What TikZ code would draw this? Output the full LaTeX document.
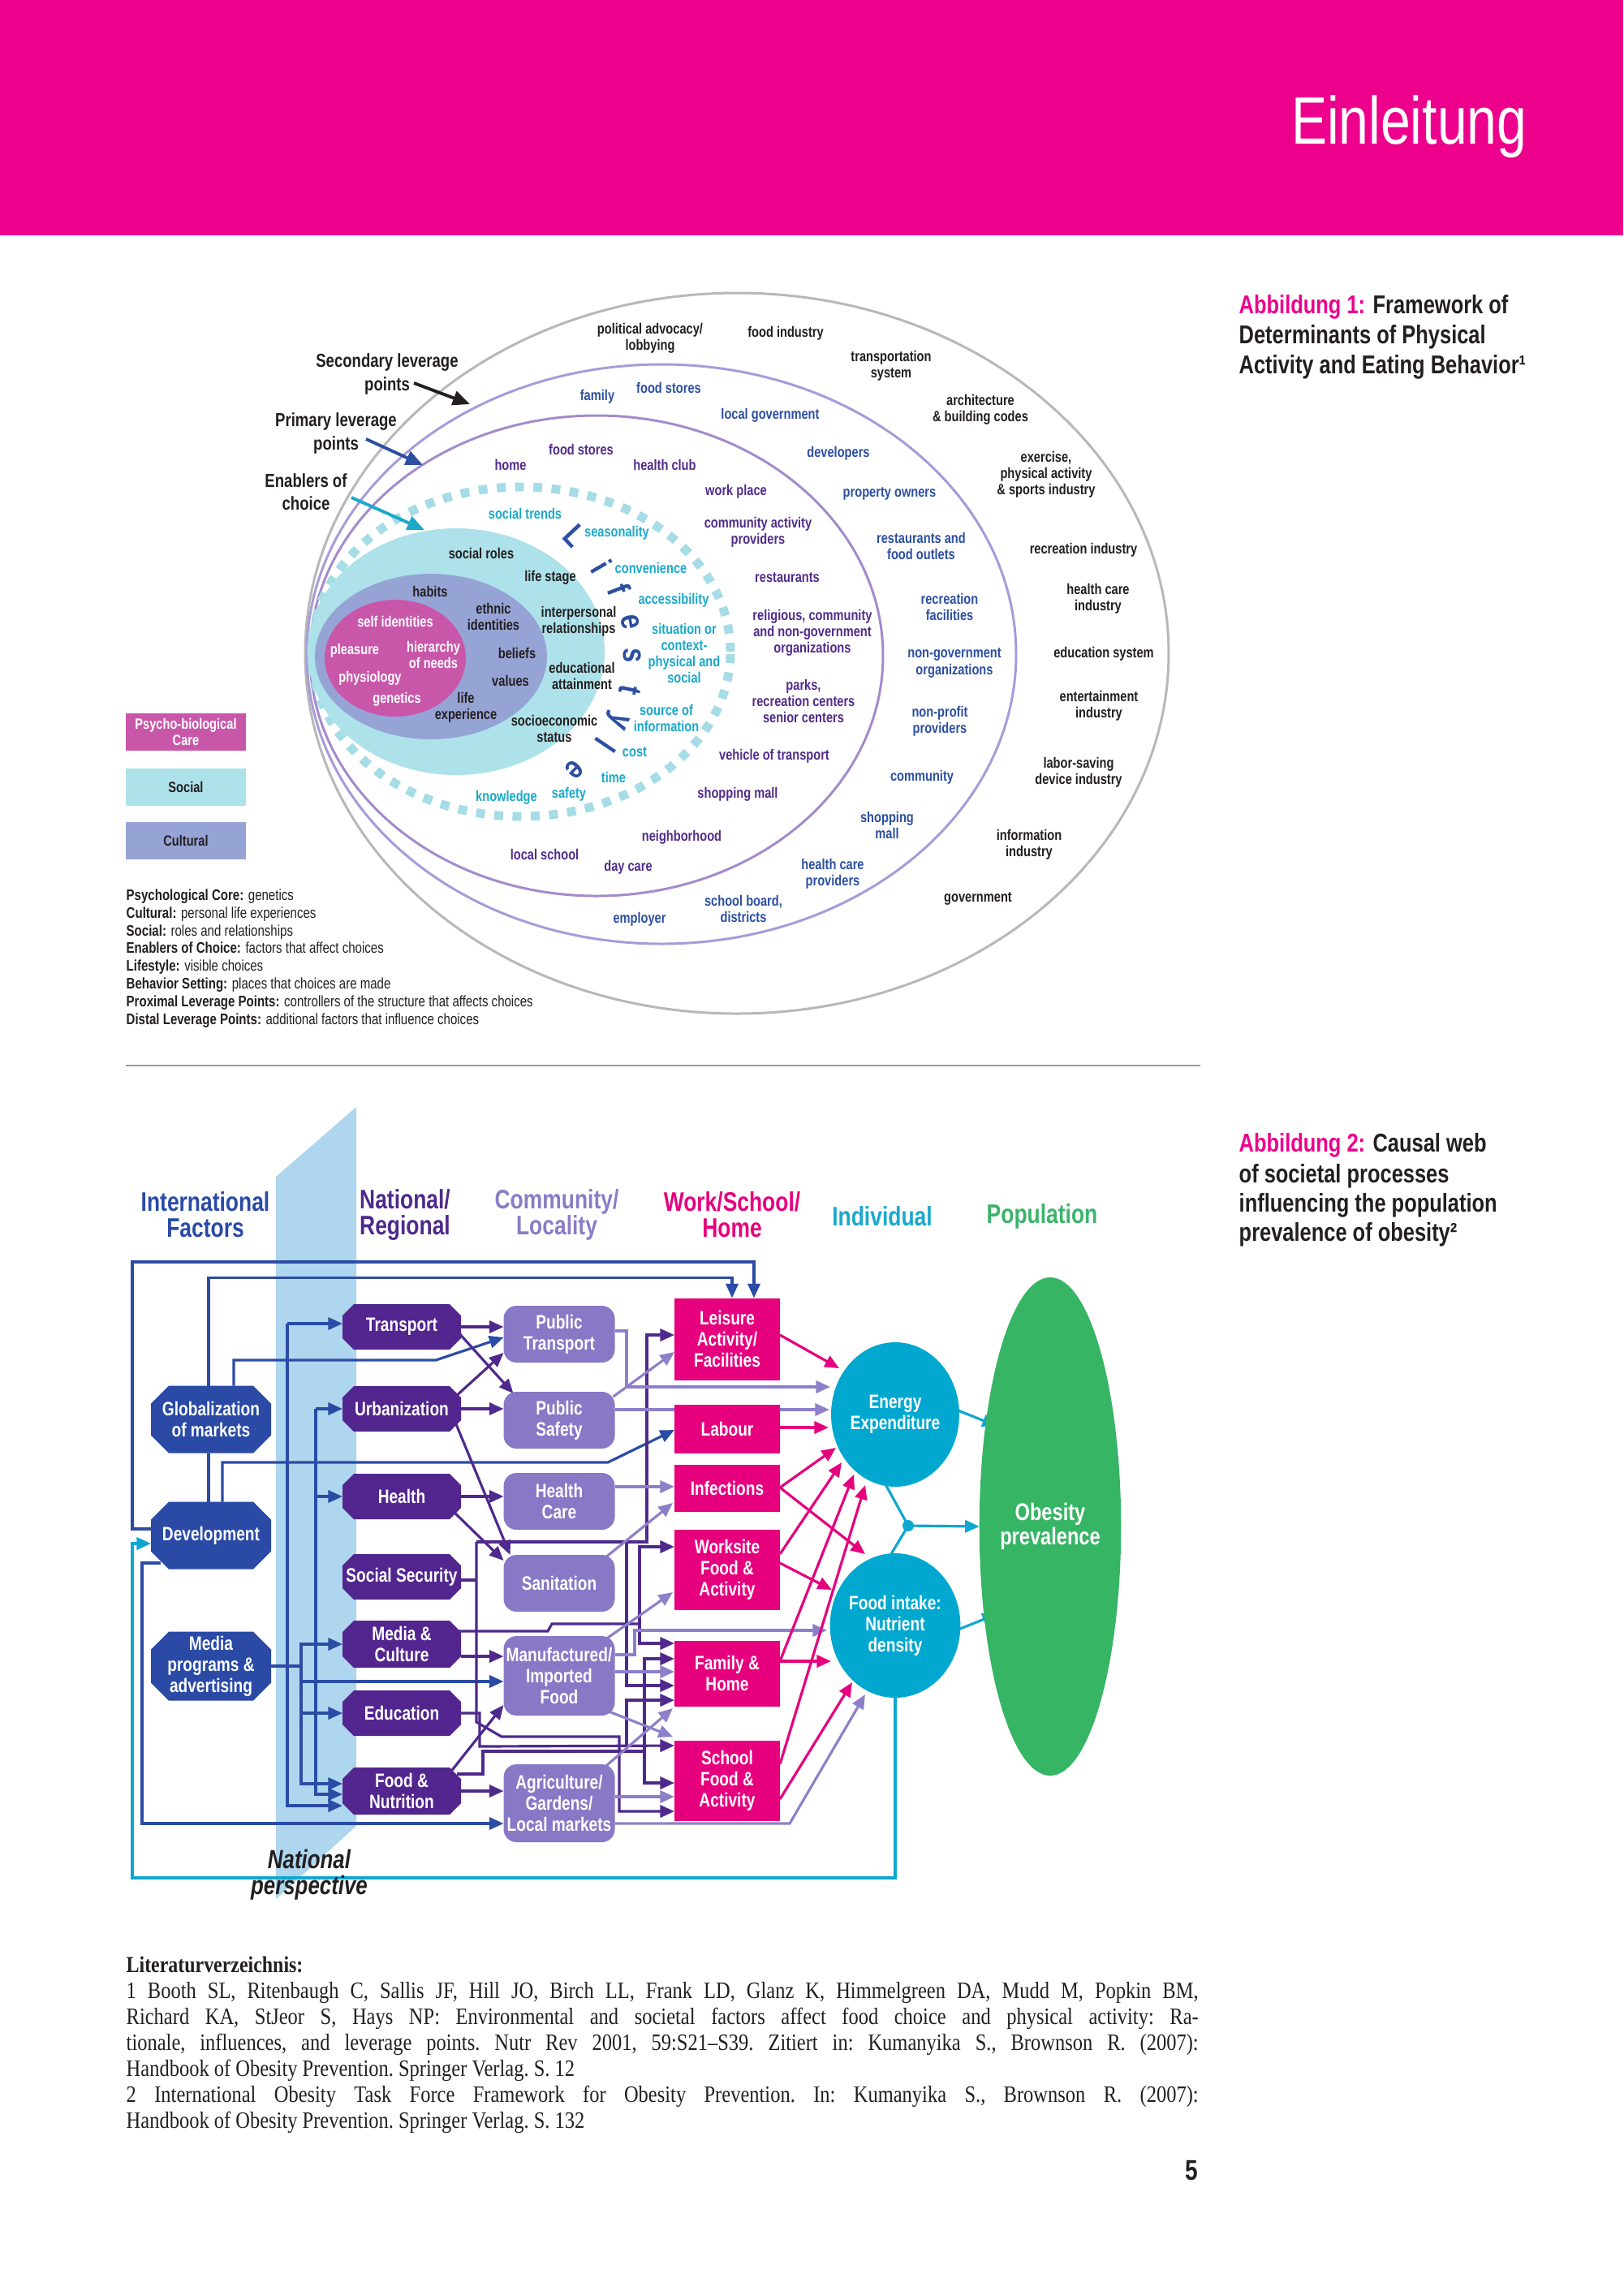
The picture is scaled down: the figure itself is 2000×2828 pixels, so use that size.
\documentclass[tikz,border=0pt]{standalone}
\usepackage{fontspec}
\setmainfont{Liberation Sans}
\newfontfamily\cond[FakeStretch=0.8]{Liberation Sans}
\newfontfamily\bibf[FakeStretch=0.85]{Liberation Serif}
\usetikzlibrary{arrows.meta,calc,shapes.geometric}
\pgfdeclarelayer{back}
\pgfdeclarelayer{lines}
\pgfdeclarelayer{shapes}
\pgfsetlayers{back,lines,shapes,main}
\definecolor{pinkhead}{HTML}{EC008C}
\definecolor{txtblack}{HTML}{231F20}
\definecolor{ringblue}{HTML}{2D4FA2}
\definecolor{ringpurple}{HTML}{512C8A}
\definecolor{encyan}{HTML}{1BA9CA}
\definecolor{psycho}{HTML}{C957A9}
\definecolor{socialc}{HTML}{ADE2EA}
\definecolor{culturalc}{HTML}{96A4D5}
\definecolor{ellgrey}{HTML}{B8B8B8}
\definecolor{elllav}{HTML}{A89BD9}
\definecolor{ellpur}{HTML}{A48BCB}
\definecolor{dashcyan}{HTML}{A5DCE6}
\definecolor{intlc}{HTML}{2A4AA6}
\definecolor{natlc}{HTML}{52268E}
\definecolor{natlh}{HTML}{4E2A8C}
\definecolor{commc}{HTML}{8878C5}
\definecolor{commh}{HTML}{8A7CC6}
\definecolor{wshc}{HTML}{E6007E}
\definecolor{indivc}{HTML}{00A8CF}
\definecolor{indivh}{HTML}{1AA8CD}
\definecolor{popc}{HTML}{36B565}
\definecolor{poph}{HTML}{3BB46B}
\definecolor{bandc}{HTML}{AED6EE}
\definecolor{sepc}{HTML}{9A9A9A}
\definecolor{lnI}{HTML}{2B4CA5}
\definecolor{lnN}{HTML}{4F2A8C}
\definecolor{lnC}{HTML}{8E80C8}
\definecolor{lnW}{HTML}{E6007E}
\definecolor{lnX}{HTML}{0FA7CF}
\newcommand{\octfill}[3]{\fill[#2] ([xshift=#3]#1.north west) -- ([xshift=-#3]#1.north east) -- ([yshift=-#3]#1.north east) -- ([yshift=#3]#1.south east) -- ([xshift=-#3]#1.south east) -- ([xshift=#3]#1.south west) -- ([yshift=#3]#1.south west) -- ([yshift=-#3]#1.north west) -- cycle;}
\begin{document}
\begin{tikzpicture}[x=0.1mm,y=-0.1mm,
 f1txt/.style={inner sep=0, outer sep=0, align=center, font=\cond\bfseries\fontsize{5.2}{5.75}\selectfont},
 tb/.style={f1txt, text=txtblack},
 tbl/.style={f1txt, text=ringblue},
 tpu/.style={f1txt, text=ringpurple},
 tcy/.style={f1txt, text=encyan},
 twh/.style={f1txt, text=white},
 lsl/.style={inner sep=0, text=ringblue, font=\cond\bfseries\fontsize{11.5}{12}\selectfont},
 levl/.style={inner sep=0, align=center, text=txtblack, font=\cond\bfseries\fontsize{6.6}{8.1}\selectfont},
 levarr/.style={line width=1.1pt, -{Triangle[length=6pt,width=5pt]}},
 legbox/.style={rectangle, inner sep=0, minimum width=14.8mm, minimum height=4.6mm, align=center, font=\cond\bfseries\fontsize{5.2}{5.9}\selectfont},
 deftxt/.style={anchor=base west, inner sep=0, text=txtblack, font=\cond\fontsize{5.35}{6.2}\selectfont},
 captxt/.style={anchor=base west, inner sep=0, text=txtblack, font=\cond\bfseries\fontsize{9.05}{10.6}\selectfont},
 colhead/.style={inner sep=0, align=center, font=\cond\bfseries\fontsize{9.4}{9.1}\selectfont},
 boxtxt/.style={inner sep=0, outer sep=0, align=center, text=white, font=\cond\bfseries\fontsize{6.8}{7.4}\selectfont},
 octI/.style={boxtxt, rectangle, minimum width=14.8mm, minimum height=8.3mm},
 octN/.style={boxtxt, rectangle, minimum width=14.6mm, minimum height=5.6mm},
 commbox/.style={boxtxt, rectangle, rounded corners=1.6mm, fill=commc, minimum width=13.7mm, minimum height=7mm},
 wshbox/.style={boxtxt, rectangle, fill=wshc, minimum width=13mm},
 indivbox/.style={boxtxt, ellipse, fill=indivc, minimum width=15.8mm, minimum height=17.8mm},
 con/.style={line width=0.9pt},
 arr/.style={-{Triangle[length=5pt,width=4.3pt]}},
 cI/.style={con, draw=lnI},
 cN/.style={con, draw=lnN},
 cC/.style={con, draw=lnC},
 cW/.style={con, draw=lnW},
 cX/.style={con, draw=lnX}]
\useasboundingbox (0,0) rectangle (2000,2828);
\begin{pgfonlayer}{back}
\fill[white] (0,0) rectangle (2000,2828);
\end{pgfonlayer}
% header
\fill[pinkhead] (0,0) rectangle (2000,290);
\node[anchor=base east, inner sep=0, text=white, font=\cond\fontsize{23.5}{28}\selectfont] (title) at (1882,177) {Einleitung};

% ================= FIGURE 1 =================
\begin{pgfonlayer}{shapes}
\draw[ellgrey, line width=0.85pt] (908,805) ellipse [x radius=53.2mm, y radius=44.4mm];
\draw[elllav, line width=0.85pt] (815,806) ellipse [x radius=43.7mm, y radius=35.7mm];
\draw[ellpur, line width=0.85pt] (735,808) ellipse [x radius=35.3mm, y radius=29.6mm];
\draw[dashcyan, line width=3.1pt, dash pattern=on 3.1pt off 3.3pt] (642,803) ellipse [x radius=25.8mm, y radius=20.3mm];
\fill[socialc] (562,803) ellipse [x radius=18.3mm, y radius=15.2mm];
\fill[culturalc] (531,809) ellipse [x radius=14.3mm, y radius=10.2mm];
\fill[psycho] (487,811) ellipse [x radius=8.7mm, y radius=7.2mm];
\end{pgfonlayer}

% outer ring (black)
\node[tb] (a1) at (801,417) {political advocacy/\\lobbying};
\node[tb] (a2) at (968,411) {food industry};
\node[tb] (a3) at (1098,451) {transportation\\system};
\node[tb] (a4) at (1208,505) {architecture\\\& building codes};
\node[tb] (a5) at (1289,585) {exercise,\\physical activity\\\& sports industry};
\node[tb] (a6) at (1335,678) {recreation industry};
\node[tb] (a7) at (1353,738) {health care\\industry};
\node[tb] (a8) at (1360,806) {education system};
\node[tb] (a9) at (1354,870) {entertainment\\industry};
\node[tb] (a10) at (1329,952) {labor-saving\\device industry};
\node[tb] (a11) at (1268,1041) {information\\industry};
\node[tb] (a12) at (1205,1107) {government};
% ring B (blue)
\node[tbl] (b1) at (736,489) {family};
\node[tbl] (b2) at (824,478) {food stores};
\node[tbl] (b3) at (949,512) {local government};
\node[tbl] (b4) at (1033,559) {developers};
\node[tbl] (b5) at (1096,608) {property owners};
\node[tbl] (b6) at (1135,673) {restaurants and\\food outlets};
\node[tbl] (b7) at (1170,748) {recreation\\facilities};
\node[tbl] (b8) at (1176,817) {non-government\\organizations};
\node[tbl] (b9) at (1158,889) {non-profit\\providers};
\node[tbl] (b10) at (1136,958) {community};
\node[tbl] (b11) at (1093,1017) {shopping\\mall};
\node[tbl] (b12) at (1026,1077) {health care\\providers};
\node[tbl] (b13) at (916,1120) {school board,\\districts};
\node[tbl] (b14) at (788,1133) {employer};
% ring C (purple)
\node[tpu] (p1) at (629,573) {home};
\node[tpu] (p2) at (716,554) {food stores};
\node[tpu] (p3) at (819,573) {health club};
\node[tpu] (p4) at (907,606) {work place};
\node[tpu] (p5) at (934,656) {community activity\\providers};
\node[tpu] (p6) at (970,712) {restaurants};
\node[tpu] (p7) at (1001,780) {religious, community\\and non-government\\organizations};
\node[tpu] (p8) at (990,864) {parks,\\recreation centers\\senior centers};
\node[tpu] (p9) at (954,932) {vehicle of transport};
\node[tpu] (p10) at (909,979) {shopping mall};
\node[tpu] (p11) at (840,1032) {neighborhood};
\node[tpu] (p12) at (774,1069) {day care};
\node[tpu] (p13) at (671,1053) {local school};
% enablers (cyan)
\node[tcy] (c1) at (647,633) {social trends};
\node[tcy] (c2) at (760,657) {seasonality};
\node[tcy] (c3) at (802,700) {convenience};
\node[tcy] (c4) at (830,740) {accessibility};
\node[tcy] (c5) at (843,805) {situation or\\context-\\physical and\\social};
\node[tcy] (c6) at (821,885) {source of\\information};
\node[tcy] (c7) at (782,927) {cost};
\node[tcy] (c8) at (756,958) {time};
\node[tcy] (c9) at (701,979) {safety};
\node[tcy] (c10) at (624,983) {knowledge};
% social / cultural (black)
\node[tb] (s1) at (593,682) {social roles};
\node[tb] (s2) at (678,712) {life stage};
\node[tb] (s3) at (713,766) {interpersonal\\relationships};
\node[tb] (s4) at (717,833) {educational\\attainment};
\node[tb] (s5) at (683,898) {socioeconomic\\status};
\node[tb] (s6) at (574,872) {life\\experience};
\node[tb] (s7) at (629,839) {values};
\node[tb] (s8) at (637,805) {beliefs};
\node[tb] (s9) at (608,760) {ethnic\\identities};
\node[tb] (s10) at (530,729) {habits};
% core (white)
\node[twh] (w1) at (487,766) {self identities};
\node[twh] (w2) at (437,802) {pleasure};
\node[twh] (w3) at (534,807) {hierarchy\\of needs};
\node[twh] (w4) at (456,836) {physiology};
\node[twh] (w5) at (489,862) {genetics};
% lifestyle letters
\node[lsl, rotate=-47] (L1) at (708,660) {L};
\node[lsl, rotate=-60] (L2) at (741,698) {i};
\node[lsl, rotate=-69] (L3) at (763,726) {f};
\node[lsl, rotate=-80] (L4) at (777,766) {e};
\node[lsl, rotate=-91] (L5) at (779,808) {s};
\node[lsl, rotate=-102] (L6) at (776,850) {t};
\node[lsl, rotate=-114] (L7) at (760,887) {y};
\node[lsl, rotate=-124] (L8) at (746,918) {l};
\node[lsl, rotate=-135] (L9) at (708,948) {e};

% leverage labels and arrows
\node[levl] (sec) at (477,461) {Secondary leverage\\points};
\node[levl] (pri) at (414,534) {Primary leverage\\points};
\node[levl] (enb) at (377,606) {Enablers of\\choice};
\coordinate (secS) at (510,472); \coordinate (secT) at (579,498);
\coordinate (priS) at (451,541); \coordinate (priT) at (521,573);
\coordinate (enS) at (433,613); \coordinate (enT) at (523,653);
\draw[levarr, draw=txtblack] (secS) -- (secT);
\draw[levarr, draw=ringblue] (priS) -- (priT);
\draw[levarr, draw=encyan] (enS) -- (enT);

% legend
\node[legbox, fill=psycho, text=white] (lg1) at (229,902) {Psycho-biological\\Care};
\node[legbox, fill=socialc, text=txtblack] (lg2) at (229,970) {Social};
\node[legbox, fill=culturalc, text=txtblack] (lg3) at (229,1036) {Cultural};

% definitions
\node[deftxt] (d1) at (155,1109) {\bfseries Psychological Core: \mdseries genetics};
\node[deftxt] (d2) at (155,1131) {\bfseries Cultural: \mdseries personal life experiences};
\node[deftxt] (d3) at (155,1153) {\bfseries Social: \mdseries roles and relationships};
\node[deftxt] (d4) at (155,1174) {\bfseries Enablers of Choice: \mdseries factors that affect choices};
\node[deftxt] (d5) at (155,1196) {\bfseries Lifestyle: \mdseries visible choices};
\node[deftxt] (d6) at (155,1218) {\bfseries Behavior Setting: \mdseries places that choices are made};
\node[deftxt] (d7) at (155,1240) {\bfseries Proximal Leverage Points: \mdseries controllers of the structure that affects choices};
\node[deftxt] (d8) at (155,1262) {\bfseries Distal Leverage Points: \mdseries additional factors that influence choices};

% caption 1
\node[captxt] (k1) at (1526,386) {\textcolor{pinkhead}{Abbildung 1:} Framework of};
\node[captxt] (k2) at (1526,423) {Determinants of Physical};
\node[captxt] (k3) at (1526,460) {Activity and Eating Behavior¹};

% separator
\draw[sepc, line width=0.6pt] (155,1313) -- (1479,1313);

% caption 2
\node[captxt] (k4) at (1526,1419) {\textcolor{pinkhead}{Abbildung 2:} Causal web};
\node[captxt] (k5) at (1526,1457) {of societal processes};
\node[captxt] (k6) at (1526,1493) {influencing the population};
\node[captxt] (k7) at (1526,1529) {prevalence of obesity²};

% ================= FIGURE 2 =================
\begin{pgfonlayer}{back}
\fill[bandc] (340,1450) -- (439,1364) -- (439,2250) -- (340,2340) -- cycle;
\end{pgfonlayer}

\node[colhead, text=intlc] (h1) at (253,1497) {International\\Factors};
\node[colhead, text=natlh] (h2) at (499,1497) {National/\\Regional};
\node[colhead, text=commh] (h3) at (686,1497) {Community/\\Locality};
\node[colhead, text=wshc] (h4) at (902,1497) {Work/School/\\Home};
\node[colhead, text=indivh] (h5) at (1087,1499) {Individual};
\node[colhead, text=poph] (h6) at (1284,1499) {Population};

\node[octI] (glob) at (260,1749) {Globalization\\of markets};
\node[octI] (dev) at (260,1892) {Development};
\node[octI, minimum height=8.5mm] (media) at (260,2053) {Media\\programs \&\\advertising};
\node[octN] (tr) at (495,1635) {Transport};
\node[octN] (urb) at (495,1736) {Urbanization};
\node[octN] (hl) at (495,1844) {Health};
\node[octN] (ss) at (495,1943) {Social Security};
\node[octN, minimum height=5.8mm] (mc) at (495,2026) {Media \&\\Culture};
\node[octN] (edu) at (495,2111) {Education};
\node[octN, minimum height=5.8mm] (fn) at (495,2207) {Food \&\\Nutrition};
\begin{pgfonlayer}{shapes}
\octfill{glob}{intlc}{2.2mm}
\octfill{dev}{intlc}{2.2mm}
\octfill{media}{intlc}{2.2mm}
\octfill{tr}{natlc}{1.4mm}
\octfill{urb}{natlc}{1.4mm}
\octfill{hl}{natlc}{1.4mm}
\octfill{ss}{natlc}{1.4mm}
\octfill{mc}{natlc}{1.4mm}
\octfill{edu}{natlc}{1.4mm}
\octfill{fn}{natlc}{1.4mm}
\end{pgfonlayer}

\node[commbox] (pt) at (689,1644) {Public\\Transport};
\node[commbox] (ps) at (689,1750) {Public\\Safety};
\node[commbox] (hc) at (689,1850) {Health\\Care};
\node[commbox] (san) at (689,1951) {Sanitation};
\node[commbox, minimum height=9.8mm] (mif) at (689,2065) {Manufactured/\\Imported\\Food};
\node[commbox, minimum height=9.6mm] (agr) at (689,2222) {Agriculture/\\Gardens/\\Local markets};

\node[wshbox, minimum height=10.1mm] (lei) at (896,1650) {Leisure\\Activity/\\Facilities};
\node[wshbox, minimum height=6mm] (lab) at (896,1761) {Labour};
\node[wshbox, minimum height=5.8mm] (inf) at (896,1834) {Infections};
\node[wshbox, minimum height=9.9mm] (wrk) at (896,1934) {Worksite\\Food \&\\Activity};
\node[wshbox, minimum height=8.1mm] (fam) at (896,2062) {Family \&\\Home};
\node[wshbox, minimum height=9.9mm] (sch) at (896,2194) {School\\Food \&\\Activity};

\node[indivbox] (ee) at (1103,1743) {Energy\\Expenditure};
\node[indivbox] (fi) at (1103,2003) {Food intake:\\Nutrient\\density};
\node[boxtxt, ellipse, fill=popc, minimum width=14.2mm, minimum height=61.4mm, font=\cond\bfseries\fontsize{8.4}{8.6}\selectfont] (ob) at (1294,1881) {Obesity\\prevalence};

\node[inner sep=0, align=center, text=txtblack, font=\cond\bfseries\itshape\fontsize{9.2}{9.1}\selectfont] (np) at (381,2310) {National\\perspective};

\begin{pgfonlayer}{lines}
% international (blue)
\draw[cI,arr] ($(dev.west)+(0,-8)$) -| (163,1555) -| ($(lei.north)+(33,0)$);
\draw[cI] ($(dev.north)+(-3,0)$) -- ($(glob.south)+(-3,0)$);
\draw[cI,arr] ($(glob.north)+(-3,0)$) |- ($(lei.north)+(6,-25)$) -- ($(lei.north)+(6,0)$);
\draw[cI,arr] ($(glob.north)+(28,0)$) |- (537,1676) -- ($(pt.west)+(0,4)$);
\draw[cI,arr] ($(dev.north)+(14,0)$) |- (749,1802) -- ($(lab.west)+(0,1)$);
\draw[cI,arr] ($(dev.west)+(12,34)$) -| (175,2247) -- ($(agr.west)+(0,25)$);
\coordinate (vA) at (354,1631);
\draw[cI,arr] (vA) -- ($(tr.west)+(0,-4)$);
\draw[cI,arr] (vA) |- ($(fn.west)+(0,18)$);
\coordinate (vB) at (389,1736);
\draw[cI,arr] (vB) -- (urb.west);
\draw[cI,arr] (vB) |- (hl.west);
\draw[cI,arr] (vB) |- ($(fn.west)+(0,4)$);
\draw[cI,arr] (media.east) -| (371,2026) -- (mc.west);
\draw[cI,arr] (media.east) -| (371,2198) -- ($(fn.west)+(0,-9)$);
\coordinate (vC1) at (371,2072);
\coordinate (vC2) at (371,2111);
\draw[cI,arr] (vC1) -- ($(mif.west)+(0,7)$);
\draw[cI,arr] (vC2) -- (edu.west);
% national (dark purple)
\draw[cN,arr] (tr.east) -- ($(pt.west)+(0,-9)$);
\draw[cN,arr] ($(tr.east)+(-4,6)$) -- ($(ps.north west)+(12,2)$);
\draw[cN,arr] (urb.east) -- ($(ps.west)+(0,-14)$);
\draw[cN,arr] ($(urb.east)+(-8,-14)$) -- ($(pt.west)+(0,23)$);
\draw[cN,arr] ($(urb.east)+(-8,14)$) -- ($(san.north west)+(8,0)$);
\draw[cN,arr] (hl.east) -- ($(hc.west)+(0,-6)$);
\draw[cN,arr] ($(hl.east)+(-14,14)$) -- ($(san.west)+(0,-28)$);
\coordinate (sA) at (587,1900);
\coordinate (sB) at (587,2122);
\coordinate (sC) at (772,1900);
\draw[cN] ($(ss.east)+(0,4)$) -- (587,1947);
\draw[cN,arr] (sA) -- (sB) -- (618,2140) -- (763,2140) |- ($(sch.west)+(0,38)$);
\draw[cN,arr] (sA) -| (797,1645) -- ($(lei.west)+(0,-5)$);
\draw[cN,arr] (sC) |- ($(fam.west)+(0,15)$);
\coordinate (eA) at (772,2152);
\draw[cN,arr] (edu.east) -| (591,2152) -- ($(sch.west)+(0,-43)$);
\draw[cN,arr] (eA) |- ($(fam.west)+(0,33)$);
\coordinate (fA) at (794,2158);
\draw[cN] ($(fn.east)+(-5,-21)$) -| (595,2158) -- (fA);
\draw[cN,arr] (fA) |- ($(fam.west)+(0,-18)$);
\draw[cN,arr] (fA) |- ($(sch.west)+(0,3)$);
\coordinate (mA) at (788,2001);
\draw[cN] ($(mc.east)+(-6,-16)$) -- (675,2010) -- (680,2001) -- (mA);
\draw[cN,arr] (mA) |- ($(wrk.west)+(0,-28)$);
\draw[cN,arr] (mA) |- ($(fam.west)+(0,-37)$);
\draw[cN,arr] ($(mc.east)+(0,15)$) -- ($(mif.west)+(0,-24)$);
\draw[cN,arr] ($(fn.east)+(-14,-22)$) -- ($(mif.west)+(0,36)$);
\draw[cN,arr] (fn.east) -- ($(agr.west)+(0,-15)$);
% community (lavender)
\draw[cC,arr] ($(pt.east)+(0,-4)$) -| (772,1709) -- ($(ee.center)+(-80,-34)$);
\draw[cC,arr] ($(ps.east)+(-2,-29)$) -- ($(lei.west)+(0,16)$);
\draw[cC,arr] ($(ps.east)+(0,-13)$) -- ($(ee.center)+(-81,-6)$);
\draw[cC,arr] ($(hc.east)+(0,-18)$) -- ($(inf.west)+(0,-2)$);
\draw[cC,arr] ($(san.north east)+(-20,10)$) -- ($(inf.west)+(-2,18)$);
\draw[cC,arr] ($(mif.north east)+(-20,10)$) -- ($(wrk.west)+(-2,28)$);
\draw[cC,arr] ($(mif.east)+(0,-26)$) -| (782,2009) -- ($(fi.center)+(-84,6)$);
\draw[cC,arr] ($(mif.east)+(0,-5)$) -- ($(fam.west)+(0,-2)$);
\draw[cC,arr] ($(mif.south east)+(-20,-10)$) -- ($(sch.west)+(-2,-54)$);
\draw[cC,arr] ($(agr.north east)+(-20,10)$) -- ($(fam.west)+(-2,43)$);
\draw[cC,arr] ($(agr.east)+(0,-8)$) -- ($(sch.west)+(0,20)$);
\draw[cC,arr] ($(agr.east)+(0,25)$) -- (973,2247) -- ($(fi.center)+(-37,85)$);
% work/school/home (magenta)
\draw[cW,arr] ($(lei.east)+(0,-5)$) -- ($(ee.center)+(-69,-57)$);
\draw[cW,arr] ($(lab.east)+(0,-2)$) -- ($(ee.center)+(-82,16)$);
\draw[cW,arr] ($(inf.east)+(0,-1)$) -- ($(ee.center)+(-73,41)$);
\draw[cW,arr] ($(inf.east)+(0,-1)$) -- ($(fi.center)+(-37,-88)$);
\draw[cW,arr] ($(wrk.east)+(0,-19)$) -- ($(ee.center)+(-66,59)$);
\draw[cW,arr] ($(wrk.east)+(0,-8)$) -- ($(fi.center)+(-78,-44)$);
\draw[cW,arr] ($(fam.east)+(0,-15)$) -- ($(fi.center)+(-79,44)$);
\draw[cW,arr] ($(fam.east)+(0,-15)$) -- ($(ee.center)+(-51,74)$);
\draw[cW,arr] ($(sch.east)+(0,-20)$) -- ($(ee.center)+(-37,87)$);
\draw[cW,arr] ($(sch.east)+(0,23)$) -- ($(fi.center)+(-53,70)$);
% individual (cyan)
\draw[cX,arr] ($(ee.center)+(75,-6)$) -- ($(ob.center)+(-66,-124)$);
\draw[cX,arr] ($(fi.center)+(75,6)$) -- ($(ob.center)+(-66,108)$);
\coordinate (jn) at (1119,1880);
\draw[cX] ($(ee.center)+(-12,86)$) -- (jn) -- ($(fi.center)+(-5,-88)$);
\draw[cX,arr] (jn) -- (ob.west);
\fill[lnX] (jn) circle [radius=0.7mm];
\draw[cX,arr] (fi.south) -- (1103,2314) -| (163,1902) -- ($(dev.west)+(0,10)$);
\end{pgfonlayer}

% ================= REFERENCES =================
\node[anchor=base west, inner sep=0, text=txtblack, font=\bibf\bfseries\fontsize{8}{9.15}\selectfont] (lit) at (155,2430) {Literaturverzeichnis:};
\node[anchor=base west, inner sep=0, text width=132.1mm, align=justify, text=txtblack, font=\bibf\fontsize{8.2}{9.15}\selectfont\frenchspacing] (refs) at (155,2462) {1 Booth SL, Ritenbaugh C, Sallis JF, Hill JO, Birch LL, Frank LD, Glanz K, Himmelgreen DA, Mudd M, Popkin BM,\linebreak Richard KA, StJeor S, Hays NP: Environmental and societal factors affect food choice and physical activity: Ra-\linebreak tionale, influences, and leverage points. Nutr Rev 2001, 59:S21–S39. Zitiert in: Kumanyika S., Brownson R. (2007):\linebreak Handbook of Obesity Prevention. Springer Verlag. S. 12\par 2 International Obesity Task Force Framework for Obesity Prevention. In: Kumanyika S., Brownson R. (2007):\linebreak Handbook of Obesity Prevention. Springer Verlag. S. 132};
\node[anchor=base east, inner sep=0, text=txtblack, font=\cond\bfseries\fontsize{10}{12}\selectfont] (pnum) at (1477,2686) {5};
\end{tikzpicture}
\end{document}
